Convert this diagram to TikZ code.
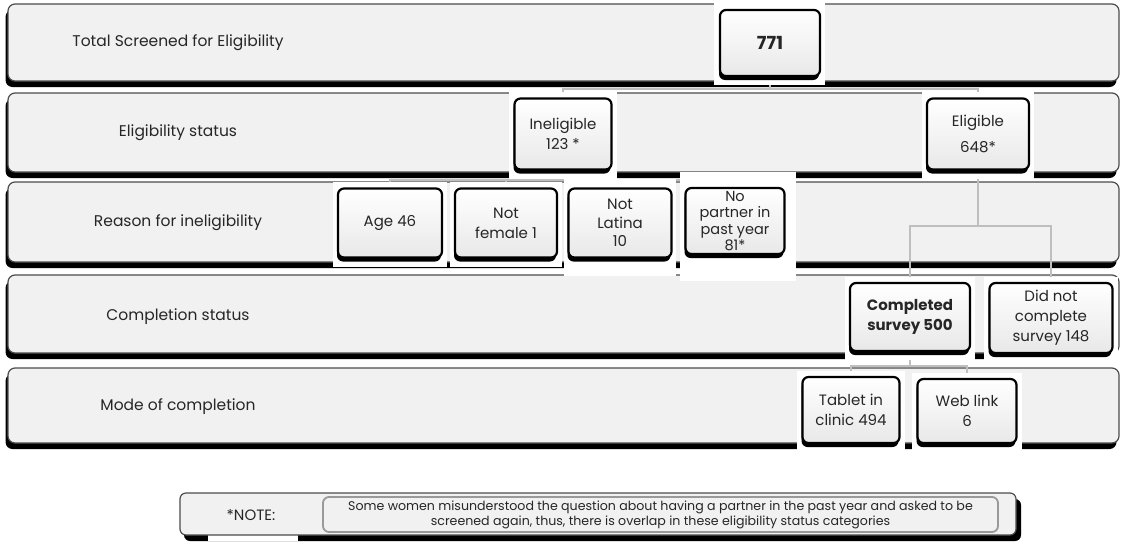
\documentclass[tikz,border=0pt]{standalone}
\usepackage{fontspec}
\setmainfont{Poppins}
\usetikzlibrary{calc,shadows}
\definecolor{bandfill}{HTML}{F1F1F1}
\definecolor{linkgray}{HTML}{BFBFBF}
\definecolor{inkgray}{HTML}{262626}
\pgfdeclarelayer{bands}
\pgfdeclarelayer{links}
\pgfdeclarelayer{mats}
\pgfsetlayers{bands,links,mats,main}

\begin{document}
\begin{tikzpicture}[x=1pt,y=-1pt,
  band/.style={draw=black!70, line width=1.2pt, fill=bandfill, rounded corners=7pt,
    drop shadow={shadow xshift=-2.5pt, shadow yshift=-6pt, fill=black, opacity=1}},
  lanelabel/.style={font=\fontsize{15.5}{18}\selectfont, text=inkgray},
  box/.style={draw=black, line width=2.2pt, rounded corners=6pt,
    top color=white, bottom color=black!9,
    inner sep=0pt, align=center, text=inkgray, font=\fontsize{15}{20}\selectfont,
    drop shadow={shadow xshift=-1pt, shadow yshift=-4pt, fill=black, opacity=1}},
  boldbox/.style={box, font=\fontsize{15}{20}\selectfont\bfseries},
  link/.style={draw=linkgray, line width=2.4pt},
  mat/.style={fill=white},
]
\useasboundingbox (0,0) rectangle (1123,541);

% ---- lanes ----
\begin{pgfonlayer}{bands}
  \draw[band] (8,4)   rectangle (1119,81);
  \draw[band] (8,93)  rectangle (1119,172);
  \draw[band] (8,182) rectangle (1119,262);
  \draw[band] (8,275) rectangle (1119,353);
  \draw[band] (8,368) rectangle (1119,443);
\end{pgfonlayer}

\node[lanelabel] (lane1) at (178,43)  {Total Screened for Eligibility};
\node[lanelabel] (lane2) at (178,133) {Eligibility status};
\node[lanelabel] (lane3) at (178,223) {Reason for ineligibility};
\node[lanelabel] (lane4) at (178,317) {Completion status};
\node[lanelabel] (lane5) at (178,407) {Mode of completion};

% ---- boxes ----
\node[boldbox, font=\fontsize{18}{20}\selectfont\bfseries,
      minimum width=100pt, minimum height=66pt] (total) at (770,43) {771};

\node[box, minimum width=97pt,  minimum height=71pt] (inel) at (563,134) {Ineligible\\123 *};
\node[box, minimum width=102pt, minimum height=71pt] (elig) at (978,134) {Eligible\\[6pt]648*};

\node[box, minimum width=104pt, minimum height=69pt] (age)  at (390,223) {Age 46};
\node[box, minimum width=102pt, minimum height=69pt] (nfem) at (506,223) {Not\\female 1};
\node[box, minimum width=103pt, minimum height=69pt, font=\fontsize{15}{18.5}\selectfont] (nlat) at (620,223) {Not\\Latina\\10};
\node[box, minimum width=99pt,  minimum height=66pt, font=\fontsize{14.5}{16.5}\selectfont] (npart) at (735,221) {No\\partner in\\past year\\81*};

\node[boldbox, minimum width=120pt, minimum height=68pt] (comp) at (910,317) {Completed\\survey 500};
\node[box, minimum width=123pt, minimum height=70pt] (dnc) at (1051,318) {Did not\\complete\\survey 148};

\node[box, minimum width=97pt, minimum height=66pt] (tab) at (851,410) {Tablet in\\clinic 494};
\node[box, minimum width=99pt, minimum height=64pt] (web) at (967,411) {Web link\\6};

% ---- white mats behind the boxes ----
\begin{pgfonlayer}{mats}
  \fill[mat] ($(total.north west)+(-5,-10)$) rectangle ($(total.south east)+(4,8)$);
  \foreach \n in {inel,elig,age,nfem,comp,dnc,tab,web}
    \fill[mat] ($(\n.north west)+(-4,-5)$) rectangle ($(\n.south east)+(4,8)$);
  \fill[mat] ($(nlat.north west)+(-3,-8)$) rectangle ($(nlat.south east)+(3,17)$);
  \fill[mat] ($(npart.north west)+(-4,-15)$) rectangle ($(npart.south east)+(10,26)$);
\end{pgfonlayer}

% ---- connectors ----
\begin{pgfonlayer}{links}
  \draw[link] (total.south) -- (total.south |- 0,89) -| (inel.north);
  \draw[link] (total.south |- 0,89) -| (elig.north);
  \draw[link] (inel.south) -- (inel.south |- 0,180) -| (age.north);
  \draw[link] (inel.south |- 0,180) -| (nfem.north);
  \draw[link] (inel.south |- 0,180) -| (nlat.north);
  \draw[link] (inel.south |- 0,180) -| (npart.north);
  \draw[link] (elig.south) -- (elig.south |- 0,226) -| (comp.north);
  \draw[link] (elig.south |- 0,226) -| (dnc.north);
  \draw[link] (comp.south) -- (comp.south |- 0,366) -| (tab.north);
  \draw[link] (comp.south |- 0,366) -| (web.north);
\end{pgfonlayer}

% ---- footnote panel ----
\fill[black, rounded corners=6pt] (184,499) rectangle (1021,541);
\fill[white] (208,530) rectangle (298,541);
\draw[draw=black!70, line width=1.2pt, fill=bandfill, rounded corners=6pt] (180,493) rectangle (1016,535);
\node[lanelabel, font=\fontsize{15}{18}\selectfont] (notehead) at (251,515) {*NOTE:};
\node[draw=black!40, line width=1.8pt, fill=bandfill, rounded corners=6pt,
      minimum width=675pt, minimum height=35pt, inner sep=0pt, align=center,
      text=inkgray, font=\fontsize{12.6}{15}\selectfont] (notetext) at (660.5,514.5)
  {Some women misunderstood the question about having a partner in the past year and asked to be\\
   screened again, thus, there is overlap in these eligibility status categories};
\end{tikzpicture}
\end{document}
